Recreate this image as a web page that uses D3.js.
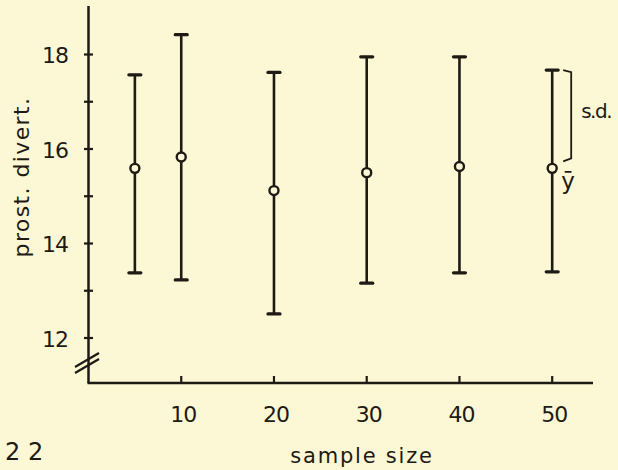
<!DOCTYPE html>
<html>
<head>
<meta charset="utf-8">
<script src="https://cdn.jsdelivr.net/npm/d3@7"></script>
<style>
  body { margin: 0; background: #fcf7d5; }
  svg { display: block; }
  text { font-family: "DejaVu Sans", sans-serif; fill: #1e1a14; }
</style>
</head>
<body>
<svg id="chart" width="618" height="470"></svg>
<script>
// sample sizes and the mean / +-s.d.
var sampleSizes = [5, 10, 20, 30, 40, 50]
var means = [15.59, 15.83, 15.12, 15.50, 15.63, 15.59]
var upper = [17.57, 18.42, 17.62, 17.95, 17.95, 17.67]
var lower = [13.38, 13.23, 12.51, 13.16, 13.38, 13.40]
var xTicks = [10, 20, 30, 40, 50]
var yTicks = [12, 13, 14, 15, 16, 17, 18]
var yLabels = [12, 14, 16, 18]

var ink = "#1e1a14"
var svg = d3.select("#chart")

var x = d3.scaleLinear().domain([0, 54.4]).range([88.5, 593])
var y = d3.scaleLinear().domain([12, 18]).range([338, 54.5])

// y axis (broken near the bottom)
var axisG = svg.append("g")
axisG.append("line")
  .attr("x1", 88.5).attr("x2", 88.5)
  .attr("y1", 6).attr("y2", 383)
  .attr("stroke", ink).attr("stroke-width", 2.5)
axisG.append("line")
  .attr("x1", 87.5).attr("x2", 593)
  .attr("y1", 383).attr("y2", 383)
  .attr("stroke", ink).attr("stroke-width", 2.5)

// break marks
;[0, 6].forEach(function(d) {
  axisG.append("line")
    .attr("x1", 75).attr("y1", 367 + d)
    .attr("x2", 99).attr("y2", 353 + d)
    .attr("stroke", ink).attr("stroke-width", 2.2)
})

axisG.selectAll(".ytick")
  .data(yTicks)
  .enter()
  .append("line")
  .attr("class", "ytick")
  .attr("x1", 84).attr("x2", 93)
  .attr("y1", d => y(d)).attr("y2", d => y(d))
  .attr("stroke", ink).attr("stroke-width", 2.2)

axisG.selectAll(".ylab")
  .data(yLabels)
  .enter()
  .append("text")
  .attr("class", "ylab")
  .attr("x", 68)
  .attr("y", d => y(d) + 8.5)
  .attr("text-anchor", "end")
  .attr("font-size", 22)
  .attr("letter-spacing", -1)
  .text(d => d)

axisG.selectAll(".xtick")
  .data(xTicks)
  .enter()
  .append("line")
  .attr("class", "xtick")
  .attr("x1", d => x(d)).attr("x2", d => x(d))
  .attr("y1", 383).attr("y2", 376)
  .attr("stroke", ink).attr("stroke-width", 2.2)

axisG.selectAll(".xlab")
  .data(xTicks)
  .enter()
  .append("text")
  .attr("class", "xlab")
  .attr("x", d => x(d) + 2)
  .attr("y", 422)
  .attr("text-anchor", "middle")
  .attr("font-size", 22)
  .attr("letter-spacing", -1)
  .text(d => d)

svg.append("text")
  .attr("x", 362).attr("y", 463)
  .attr("text-anchor", "middle")
  .attr("font-size", 21)
  .attr("letter-spacing", 1.8)
  .text("sample size")

svg.append("text")
  .attr("transform", "translate(29,177) rotate(-90)")
  .attr("text-anchor", "middle")
  .attr("font-size", 22)
  .attr("letter-spacing", 1.4)
  .text("prost. divert.")

svg.append("text")
  .attr("x", 5).attr("y", 460)
  .attr("font-size", 24)
  .text("2 2")

// error bars
var bars = svg.append("g")
sampleSizes.forEach(function(n, i) {
  var cx = x(n)
  bars.append("line")
    .attr("x1", cx).attr("x2", cx)
    .attr("y1", y(upper[i])).attr("y2", y(lower[i]))
    .attr("stroke", ink).attr("stroke-width", 2.6)
  ;[upper[i], lower[i]].forEach(function(v) {
    bars.append("line")
      .attr("x1", cx - 6).attr("x2", cx + 6)
      .attr("y1", y(v)).attr("y2", y(v))
      .attr("stroke", ink).attr("stroke-width", 3.2)
      .attr("stroke-linecap", "round")
  })
  bars.append("circle")
    .attr("cx", cx).attr("cy", y(means[i]))
    .attr("r", 4.5)
    .attr("fill", "#fcf7d5")
    .attr("stroke", ink).attr("stroke-width", 2.4)
})

// key: bracket showing s.d. and mean
var last = sampleSizes.length - 1
var bx = x(sampleSizes[last]) + 19
var bTop = y(upper[last])
var bBot = y(means[last]) - 7
svg.append("path")
  .attr("d", `M${bx - 8},${bTop} L${bx},${bTop + 2} L${bx},${bBot - 3} L${bx - 8},${bBot}`)
  .attr("fill", "none")
  .attr("stroke", ink).attr("stroke-width", 1.8)
svg.append("text")
  .attr("x", bx + 10).attr("y", 118)
  .attr("font-size", 20)
  .attr("letter-spacing", -1.5)
  .text("s.d.")
svg.append("text")
  .attr("x", bx - 10).attr("y", 189)
  .attr("font-size", 23)
  .text("\u0233")
</script>
</body>
</html>
